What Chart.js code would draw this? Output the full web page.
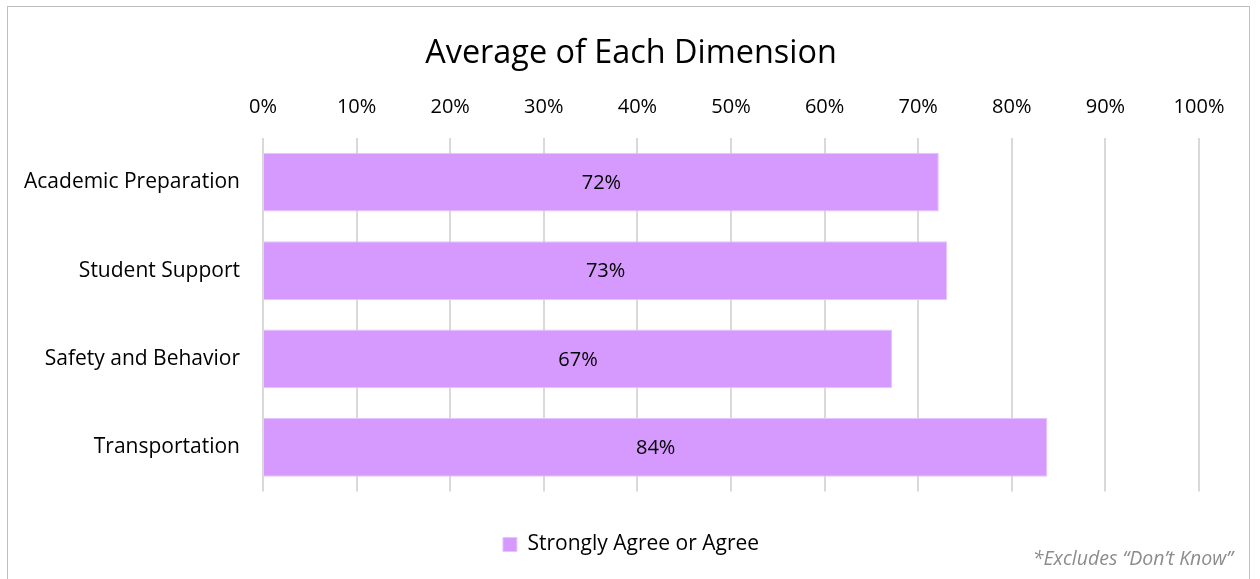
<!DOCTYPE html>
<html>
<head>
<meta charset="utf-8">
<script src="https://cdn.jsdelivr.net/npm/chart.js@4/dist/chart.umd.min.js"></script>
<style>
  html, body { margin: 0; padding: 0; background: #fff; overflow: hidden; width: 1260px; height: 579px; }
  #frame { position: absolute; left: 7px; top: 6px; width: 1243px; height: 700px; border: 1px solid #bfbfbf; box-sizing: border-box; }
  #wrap { position: absolute; left: 0; top: 0; width: 1260px; height: 565px; }
  #note { position: absolute; right: 27px; top: 544px; line-height: 28px; font-family: "Open Sans", sans-serif; font-style: italic; font-size: 19.5px; color: #8c8c8c; white-space: nowrap; }
</style>
</head>
<body>
<div id="frame"></div>
<div id="wrap"><canvas id="c" width="1260" height="565"></canvas></div>
<div id="note">*Excludes “Don’t Know”</div>
<script>
const categories = ["Academic Preparation", "Student Support", "Safety and Behavior", "Transportation"];
const seriesName = "Strongly Agree or Agree";
const values = [72.2, 73.1, 67.2, 83.8];
const valueLabels = ["72%", "73%", "67%", "84%"];
const tickValues = [0, 10, 20, 30, 40, 50, 60, 70, 80, 90, 100];
const chartTitle = "Average of Each Dimension";

const FONT = '"Open Sans", sans-serif';
const BAR = '#D69AFE';

const labelPlugin = {
  id: 'barLabels',
  afterDatasetsDraw(chart) {
    const ctx = chart.ctx;
    const meta = chart.getDatasetMeta(0);
    ctx.save();
    ctx.font = '20px ' + FONT;
    ctx.fillStyle = '#000';
    ctx.textAlign = 'center';
    ctx.textBaseline = 'middle';
    meta.data.forEach((bar, i) => {
      const cx = (bar.x + bar.base) / 2;
      ctx.fillText(valueLabels[i], cx, bar.y + 1);
    });
    ctx.restore();
  }
};

new Chart(document.getElementById('c'), {
  type: 'bar',
  data: {
    labels: categories,
    datasets: [{
      label: seriesName,
      data: values,
      backgroundColor: BAR,
      borderColor: '#E6C4FF',
      borderWidth: 1,
      categoryPercentage: 1,
      barPercentage: 0.665
    }]
  },
  options: {
    indexAxis: 'y',
    responsive: false,
    animation: false,
    devicePixelRatio: 1,
    layout: { padding: { left: 10, right: 8, top: 0, bottom: 0 } },
    scales: {
      x: {
        position: 'top',
        min: 0, max: 100,
        afterBuildTicks: (s) => { s.ticks = tickValues.map(v => ({ value: v })); },
        afterFit: (s) => { s.height = 64.6; },
        border: { display: false },
        grid: { color: '#d9d9d9', lineWidth: 2, drawTicks: false },
        ticks: {
          padding: 19,
          color: '#000',
          font: { family: FONT, size: 20 },
          callback: (v) => v + '%'
        }
      },
      y: {
        afterFit: (s) => { s.width = 253; },
        border: { display: false },
        grid: { display: false, drawTicks: false },
        ticks: {
          padding: 23,
          color: '#000',
          font: { family: FONT, size: 21 }
        }
      },
      ySpacer: {
        type: 'category',
        position: 'right',
        afterFit: (s) => { s.width = 53; },
        border: { display: false },
        grid: { display: false, drawTicks: false },
        ticks: { display: false }
      }
    },
    plugins: {
      title: {
        display: true,
        text: chartTitle,
        color: '#000',
        font: { family: FONT, size: 32.4, weight: 'normal' },
        padding: { top: 34.5, bottom: 0 }
      },
      legend: {
        position: 'bottom',
        labels: {
          boxWidth: 14,
          boxHeight: 14,
          padding: 42.5,
          color: '#000',
          font: { family: FONT, size: 21 }
        }
      },
      tooltip: { enabled: false }
    }
  },
  plugins: [labelPlugin]
});
</script>
</body>
</html>
